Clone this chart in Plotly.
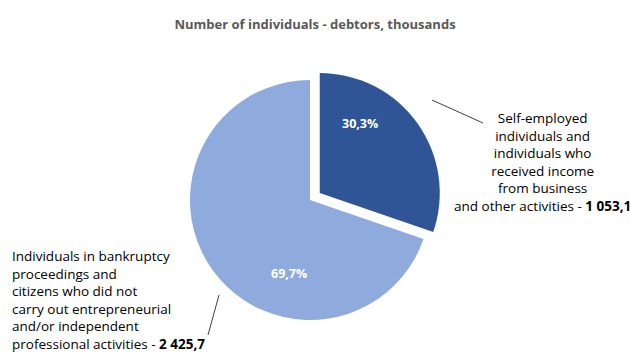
import plotly.graph_objects as go

categories = [
    "Self-employed individuals and individuals who received income from business and other activities",
    "Individuals in bankruptcy proceedings and citizens who did not carry out entrepreneurial and/or independent professional activities",
]
values = [1053.1, 2425.7]
value_labels = ["1 053,1", "2 425,7"]
colors = ["#2F5597", "#8FAADC"]
title_text = "Number of individuals - debtors, thousands"

W, H = 630, 353
FONT = "Open Sans, sans-serif"

fig = go.Figure()
fig.add_trace(go.Pie(
    labels=categories,
    values=values,
    sort=False,
    direction="clockwise",
    rotation=0,
    pull=[0.1, 0],
    marker=dict(colors=colors, line=dict(color="white", width=0)),
    textinfo="none",
    showlegend=False,
    hoverinfo="label+value+percent",
    domain=dict(x=[178 / W, 442 / W], y=[21 / H, 285 / H]),
))

total = sum(values)
pct = [("%.1f%%" % (100 * v / total)).replace(".", ",") for v in values]
pct_pos = [(360, 123), (289, 273)]
for p, (px, py) in zip(pct, pct_pos):
    fig.add_annotation(
        xref="paper", yref="paper", x=px / W, y=1 - py / H,
        text="<b>" + p + "</b>", showarrow=False,
        xanchor="center", yanchor="middle",
        font=dict(family=FONT, size=12.5, color="white"),
    )

fig.add_annotation(
    xref="paper", yref="paper", x=542 / W, y=1 - 162 / H,
    text="Self-employed<br>individuals and<br>individuals who<br>received income<br>from business<br>and other activities - <b>" + value_labels[0] + "</b>",
    showarrow=False, align="center", xanchor="center", yanchor="middle",
    font=dict(family=FONT, size=13.5, color="#000000"),
)
fig.add_annotation(
    xref="paper", yref="paper", x=10 / W, y=1 - 300 / H,
    text="Individuals in bankruptcy<br>proceedings and<br>citizens who did not<br>carry out entrepreneurial<br>and/or independent<br>professional activities - <b>" + value_labels[1] + "</b>",
    showarrow=False, align="left", xanchor="left", yanchor="middle",
    font=dict(family=FONT, size=13.5, color="#000000"),
)

fig.add_shape(type="line", xref="paper", yref="paper",
              x0=432 / W, y0=1 - 100 / H, x1=483 / W, y1=1 - 123 / H,
              line=dict(color="#404040", width=1))
fig.add_shape(type="line", xref="paper", yref="paper",
              x0=219 / W, y0=1 - 295 / H, x1=208 / W, y1=1 - 335 / H,
              line=dict(color="#404040", width=1))

fig.update_layout(
    width=W, height=H,
    margin=dict(l=0, r=0, t=0, b=0),
    paper_bgcolor="white", plot_bgcolor="white",
    separators=", ",
    title=dict(text="<b>" + title_text + "</b>", x=0.5, xanchor="center",
               y=1 - 24 / H, yanchor="middle",
               font=dict(family=FONT, size=13, color="#595959")),
)

fig.write_html("out.html")
